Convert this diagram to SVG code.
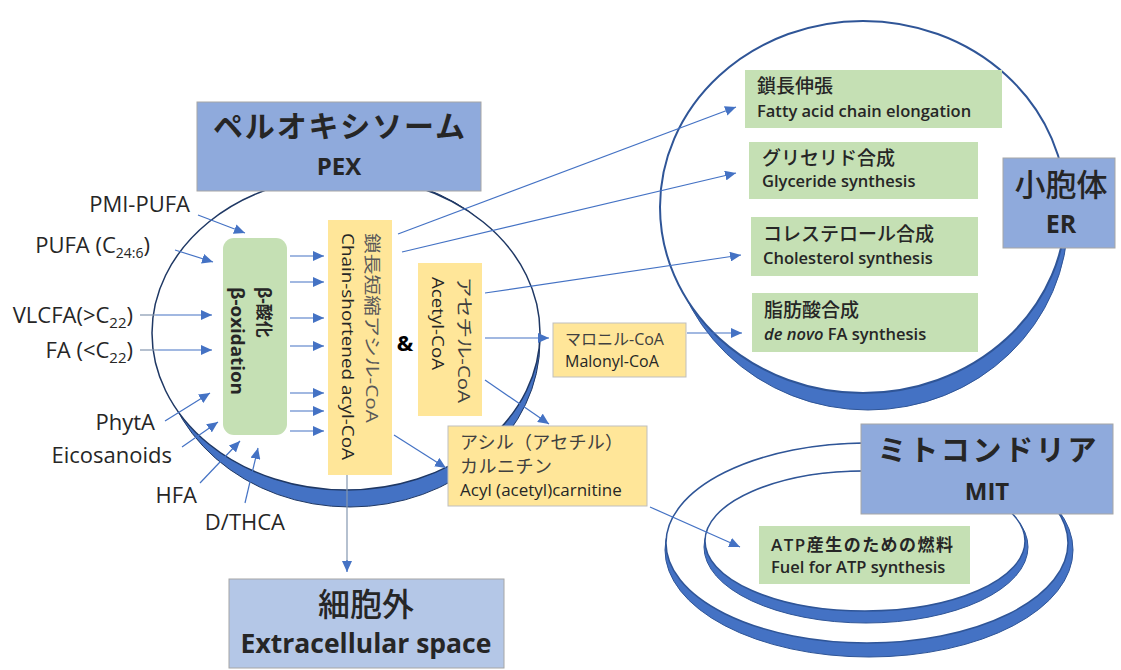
<svg xmlns="http://www.w3.org/2000/svg" width="1121" height="670" viewBox="0 0 1121 670">
<style>
.t{font-family:'Open Sans','Noto Sans CJK JP',sans-serif;fill:#262626}
.jp{font-family:'Noto Sans CJK JP',sans-serif;fill:#262626}
.hdr{fill:#8FAADC;stroke:#A6A6A6;stroke-width:1}
.yel{fill:#FFE699}
.yelb{fill:#FFE699;stroke:#BFBFBF;stroke-width:1}
.grn{fill:#C5E0B4}
.ring{fill:#4472C4;stroke:#2F528F;stroke-width:1}
.hole{fill:#FFFFFF;stroke:#2F528F;stroke-width:1.5}
.ar{stroke:#4472C4;stroke-width:1.2;fill:none;marker-end:url(#ah)}
.gl{stroke:#8497B0;stroke-width:1.2;fill:none}
.lbl{font-size:22px}
.g{font-size:16.5px;font-weight:600}
.gj{font-size:19px;font-weight:500}
</style>
<defs>
<marker id="ah" markerUnits="userSpaceOnUse" markerWidth="11" markerHeight="10" refX="11" refY="5" orient="auto">
<path d="M0,0 L11,5 L0,10 z" fill="#4472C4"/>
</marker>
</defs>
<rect width="1121" height="670" fill="#FFFFFF"/>

<g id="pex-membrane">
<ellipse class="ring" cx="350" cy="341" rx="190" ry="166" style="stroke:#1F3864"/>
<ellipse class="hole" cx="346" cy="333" rx="194" ry="157" style="stroke:#1F3864"/>
</g>
<g id="er-membrane">
<ellipse class="ring" cx="868" cy="218" rx="200" ry="192" style="stroke:#2F5597"/>
<ellipse class="hole" cx="863" cy="207" rx="203" ry="186" style="stroke:#2F5597;stroke-width:2"/>
</g>
<g id="mit-membrane">
<ellipse class="ring" cx="869" cy="550" rx="204" ry="107" style="stroke:#2F5597"/>
<ellipse class="hole" cx="867" cy="543" rx="201" ry="100" style="stroke:#2F5597"/>
<ellipse class="ring" cx="866" cy="547" rx="162" ry="76" style="stroke:#2F5597"/>
<ellipse class="hole" cx="865" cy="541" rx="160" ry="70" style="stroke:#2F5597"/>
</g>

<g id="connectors">
<path class="ar" d="M198,215 L245,233"/>
<path class="ar" d="M175,250 L213,262"/>
<path class="gl" d="M140,315 L156,315"/>
<path class="ar" d="M156,315 L212,315"/>
<path class="gl" d="M140,350 L158,350"/>
<path class="ar" d="M158,350 L212,350"/>
<path class="ar" d="M165,421 L210,393"/>
<path class="ar" d="M182,447 L218,422"/>
<path class="ar" d="M200,483 L240,441"/>
<path class="ar" d="M245,503 L258,448"/>
<path class="ar" d="M290,256 L324,256"/>
<path class="ar" d="M290,282 L324,282"/>
<path class="ar" d="M290,318 L324,318"/>
<path class="ar" d="M290,346 L324,346"/>
<path class="ar" d="M290,393 L324,393"/>
<path class="ar" d="M290,411 L324,411"/>
<path class="ar" d="M290,431 L324,431"/>
<path class="ar" d="M398,234 L736,107"/>
<path class="ar" d="M402,252 L736,173"/>
<path class="ar" d="M485,293 L741,255"/>
<path class="ar" d="M687,333 L742,333"/>
<path class="ar" d="M485,338 L549,338"/>
<path class="ar" d="M485,380 L549,424"/>
<path class="ar" d="M394,435 L446,468"/>
<path class="gl" d="M347,475 L347,562"/>
<path class="ar" d="M347,560 L347,572"/>
<path class="ar" d="M650,507 L740,547"/>
</g>

<g id="pex-label">
<rect class="hdr" x="197" y="102" width="284" height="89"/>
<text class="jp" x="339" y="137" font-size="30" font-weight="700" text-anchor="middle" textLength="252" lengthAdjust="spacing">ペルオキシソーム</text>
<text class="t" x="339" y="175" font-size="24" font-weight="700" text-anchor="middle">PEX</text>
</g>

<g id="inputs">
<text class="t lbl" x="190" y="212" text-anchor="end">PMI-PUFA</text>
<text class="t lbl" x="150" y="253" text-anchor="end">PUFA (C<tspan font-size="14" dy="5">24:6</tspan><tspan dy="-5">)</tspan></text>
<text class="t lbl" x="133" y="323" text-anchor="end">VLCFA(&gt;C<tspan font-size="15" dy="5">22</tspan><tspan dy="-5">)</tspan></text>
<text class="t lbl" x="133" y="358" text-anchor="end">FA (&lt;C<tspan font-size="15" dy="5">22</tspan><tspan dy="-5">)</tspan></text>
<text class="t lbl" x="155" y="430" text-anchor="end">PhytA</text>
<text class="t lbl" x="172" y="463" text-anchor="end">Eicosanoids</text>
<text class="t lbl" x="197" y="503" text-anchor="end">HFA</text>
<text class="t lbl" x="285" y="530" text-anchor="end">D/THCA</text>
</g>

<g id="beta-oxidation">
<rect class="grn" x="223" y="238" width="64" height="197" rx="11"/>
<text class="t" transform="translate(258,287) rotate(90)" font-size="17" font-weight="700">β-酸化</text>
<text class="t" transform="translate(231,287) rotate(90)" font-size="17" font-weight="700" textLength="108" lengthAdjust="spacingAndGlyphs">β-oxidation</text>
</g>

<g id="chain-shortened-acyl-coa">
<rect class="yel" x="328" y="220" width="64" height="255"/>
<text class="t" transform="translate(366,233) rotate(90)" font-size="17" style="fill:#595959" textLength="190" lengthAdjust="spacingAndGlyphs">鎖長短縮アシル-CoA</text>
<text class="t" transform="translate(342,233) rotate(90)" font-size="17" textLength="227" lengthAdjust="spacingAndGlyphs">Chain-shortened acyl-CoA</text>
</g>

<g id="amp">
<text class="t" x="405" y="351" font-size="22" font-weight="700" text-anchor="middle" style="fill:#000">&amp;</text>
</g>

<g id="acetyl-coa">
<rect class="yel" x="418" y="263" width="64" height="153"/>
<text class="t" transform="translate(458,277) rotate(90)" font-size="17" style="fill:#404040" textLength="126" lengthAdjust="spacingAndGlyphs">アセチル-CoA</text>
<text class="t" transform="translate(432,277) rotate(90)" font-size="17" textLength="93" lengthAdjust="spacingAndGlyphs">Acetyl-CoA</text>
</g>

<g id="malonyl-coa">
<rect class="yelb" x="553" y="323" width="133" height="54"/>
<text class="t" x="565" y="345" font-size="16" style="fill:#404040">マロニル-CoA</text>
<text class="t" x="565" y="367" font-size="16">Malonyl-CoA</text>
</g>

<g id="acylcarnitine">
<rect class="yelb" x="448" y="426" width="199" height="80"/>
<text class="t" x="460" y="449" font-size="18" style="fill:#404040" textLength="163" lengthAdjust="spacing">アシル（アセチル）</text>
<text class="t" x="460" y="473" font-size="18" style="fill:#404040" textLength="92" lengthAdjust="spacing">カルニチン</text>
<text class="t" x="460" y="496" font-size="17">Acyl (acetyl)carnitine</text>
</g>

<g id="extracellular">
<rect x="229" y="579" width="275" height="89" fill="#B4C7E7" stroke="#A6A6A6" stroke-width="1"/>
<text class="jp" x="366" y="616" font-size="32" font-weight="500" text-anchor="middle">細胞外</text>
<text class="t" x="366" y="653" font-size="26.5" font-weight="700" text-anchor="middle">Extracellular space</text>
</g>

<g id="er-elongation">
<rect class="grn" x="745" y="70" width="257" height="58"/>
<text class="t gj" x="757" y="93">鎖長伸張</text>
<text class="t g" x="757" y="117">Fatty acid chain elongation</text>
</g>
<g id="er-glyceride">
<rect class="grn" x="749" y="142" width="229" height="57"/>
<text class="t gj" x="762" y="165">グリセリド合成</text>
<text class="t g" x="762" y="187">Glyceride synthesis</text>
</g>
<g id="er-cholesterol">
<rect class="grn" x="751" y="217" width="227" height="59"/>
<text class="t gj" x="763" y="241">コレステロール合成</text>
<text class="t g" x="763" y="264">Cholesterol synthesis</text>
</g>
<g id="er-denovo">
<rect class="grn" x="752" y="293" width="226" height="59"/>
<text class="t gj" x="764" y="317">脂肪酸合成</text>
<text class="t g" x="764" y="340"><tspan font-style="italic">de novo</tspan> FA synthesis</text>
</g>

<g id="er-label">
<rect class="hdr" x="1003" y="158" width="112" height="90"/>
<text class="jp" x="1061" y="196" font-size="31" font-weight="500" text-anchor="middle">小胞体</text>
<text class="t" x="1061" y="233" font-size="25" font-weight="700" text-anchor="middle">ER</text>
</g>

<g id="mit-label">
<rect class="hdr" x="861" y="424" width="252" height="90"/>
<text class="jp" x="987" y="461" font-size="29" font-weight="700" text-anchor="middle" textLength="219" lengthAdjust="spacing">ミトコンドリア</text>
<text class="t" x="987" y="500" font-size="24" font-weight="700" text-anchor="middle">MIT</text>
</g>

<g id="atp-fuel">
<rect class="grn" x="759" y="526" width="211" height="58"/>
<text class="t" x="771" y="551" font-size="17" font-weight="600" textLength="182" lengthAdjust="spacing">ATP産生のための燃料</text>
<text class="t g" x="771" y="573">Fuel for ATP synthesis</text>
</g>
</svg>
